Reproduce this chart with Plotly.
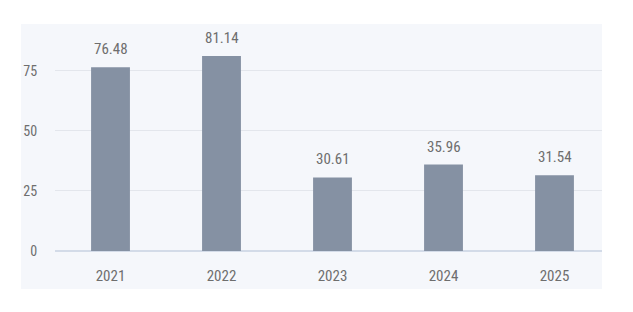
import plotly.graph_objects as go

years = ["2021", "2022", "2023", "2024", "2025"]
values = [76.48, 81.14, 30.61, 35.96, 31.54]
y_ticks = [0, 25, 50, 75]

W, H = 633, 312
L, R, T, B = 55, 23, 30, 61
pw, ph = W - L - R, H - T - B

FONT = "Liberation Sans Narrow, Arial Narrow, Roboto Condensed, sans-serif"
TXT = "#6e6e6e"

def px_x(p):
    return (p - L) / pw

def px_y(p):
    return (H - B - p) / ph

fig = go.Figure(go.Bar(
    x=years, y=values,
    marker=dict(color="#8591a3", line=dict(width=0)),
    hoverinfo="skip",
))

for i, v in enumerate(values):
    fig.add_annotation(
        x=i, y=v, text=f"{v:.2f}", showarrow=False,
        yanchor="bottom", yshift=7,
        font=dict(size=15, color=TXT, family=FONT),
    )

fig.update_layout(
    width=W, height=H,
    margin=dict(l=L, r=R, t=T, b=B),
    paper_bgcolor="white",
    plot_bgcolor="rgba(0,0,0,0)",
    bargap=0.65,
    showlegend=False,
    font=dict(family=FONT, color=TXT, size=14),
    shapes=[
        dict(type="rect", xref="paper", yref="paper", layer="below",
             x0=px_x(21), x1=px_x(602), y0=px_y(289), y1=px_y(24),
             fillcolor="#f5f7fb", line=dict(width=0)),
        dict(type="rect", xref="paper", yref="paper", layer="above",
             x0=px_x(602), x1=1.01, y0=-0.02, y1=1.0,
             fillcolor="white", line=dict(width=0)),
    ],
)
fig.update_xaxes(
    type="category", range=[-0.5, len(years) - 0.5],
    showgrid=False, showline=False, zeroline=False,
    ticks="outside", ticklen=11, tickcolor="rgba(0,0,0,0)",
    tickfont=dict(size=15, color=TXT, family=FONT),
)
fig.update_yaxes(
    range=[0, 92], tickvals=y_ticks,
    showgrid=True, gridcolor="#e3e6ec", gridwidth=1,
    zeroline=True, zerolinecolor="#d3dbe8", zerolinewidth=2,
    showline=False,
    ticks="outside", ticklen=14, tickcolor="rgba(0,0,0,0)",
    tickfont=dict(size=14, color=TXT, family=FONT),
)

fig.write_html("out.html")
